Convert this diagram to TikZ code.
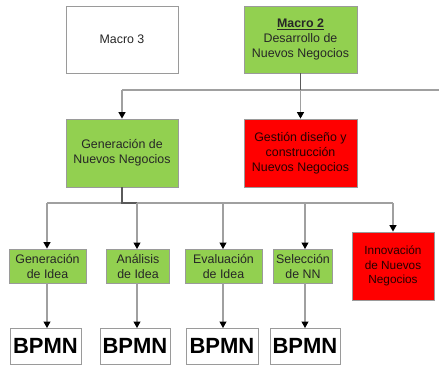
\documentclass[tikz,border=0pt]{standalone}
\usepackage{fontspec}
\setmainfont{Liberation Sans}
\usetikzlibrary{arrows.meta}
\definecolor{boxgreen}{HTML}{92D050}
\definecolor{boxred}{HTML}{FF0000}
\definecolor{edgegray}{HTML}{9A9A9A}
\definecolor{linegray}{HTML}{A0A0A0}
\definecolor{trunkgray}{HTML}{5A5A5A}
\definecolor{txt}{HTML}{262626}
\definecolor{redtxt}{HTML}{260000}
\begin{document}
\begin{tikzpicture}[x=1pt,y=-1pt,
  box/.style={draw=edgegray,line width=0.8pt,align=center,text=txt,
    font=\fontsize{12.4}{15}\selectfont,inner sep=1pt},
  bigbox/.style={box,minimum width=112pt,minimum height=67pt},
  smallbox/.style={box,fill=boxgreen,minimum height=34pt,inner sep=0pt},
  redbox/.style={fill=boxred,text=redtxt},
  bpmnbox/.style={box,text=black,minimum height=36pt,inner sep=0pt,
    font=\fontsize{22}{24}\selectfont\bfseries},
  conn/.style={draw=linegray,line width=1.1pt},
  trunk/.style={draw=trunkgray,line width=1.1pt},
  arr/.style={conn,-{Triangle[width=7pt,length=6.5pt,color=black]}}]
\useasboundingbox (0,0) rectangle (439,368);

% top level
\node[bigbox] (m3) at (122,39.5) {Macro 3};
\node[bigbox,fill=boxgreen,minimum width=113pt] (m2) at (300.5,39.5)
  {\underline{\textbf{Macro 2}}\\Desarrollo de\\Nuevos Negocios};

% second level
\node[bigbox,fill=boxgreen,minimum height=68pt] (gen) at (122,153)
  {Generación de\\Nuevos Negocios};
\node[bigbox,redbox,minimum width=113pt,minimum height=68pt] (ges) at (300.5,153)
  {Gestión diseño y\\construcción\\Nuevos Negocios};

% third level
\node[smallbox,minimum width=77pt] (gi) at (47.5,266) {Generación\\de Idea};
\node[smallbox,minimum width=63pt] (ai) at (138,266) {Análisis\\de Idea};
\node[smallbox,minimum width=77pt] (ei) at (223.5,266) {Evaluación\\de Idea};
\node[smallbox,minimum width=59pt] (sn) at (303,266) {Selección\\de NN};
\node[box,redbox,minimum width=82pt,minimum height=68pt,
  font=\fontsize{11.8}{14.5}\selectfont] (inn) at (393,266)
  {Innovación\\de Nuevos\\Negocios};

% process models
\node[bpmnbox,minimum width=71pt] (b1) at (45.5,346) {BPMN};
\node[bpmnbox,minimum width=70pt] (b2) at (135,346) {BPMN};
\node[bpmnbox,minimum width=72pt] (b3) at (222,346) {BPMN};
\node[bpmnbox,minimum width=70pt] (b4) at (305,346) {BPMN};

% bus below Macro 2
\coordinate (j1) at (300.5,90);
\coordinate (busA) at (122,90);
\coordinate (busB) at (439,90);
\draw[conn] (busA) -- (busB);
\draw[trunk] (m2.south) -- (j1);
\draw[arr] (busA) -- (gen.north);
\draw[arr] (j1) -- (ges.north);

% bus below Generacion de Nuevos Negocios
\coordinate (j2) at (122,203);
\coordinate (busL) at (47,203);
\coordinate (busR) at (393,203);
\draw[conn] (busL) -- (busR);
\draw[trunk] (gen.south) -- (j2) -- (137,203);
\draw[arr] (busL) -- (busL |- gi.north);
\draw[arr] (137,203) -- (137,249);
\draw[arr] (223,203) -- (223,249);
\draw[arr] (305,203) -- (305,249);
\draw[arr] (busR) -- (inn.north);

% down to the BPMN models
\draw[arr] (47,283) -- (47,328);
\draw[arr] (137,283) -- (137,328);
\draw[arr] (223,283) -- (223,328);
\draw[arr] (305,283) -- (305,328);
\end{tikzpicture}
\end{document}
